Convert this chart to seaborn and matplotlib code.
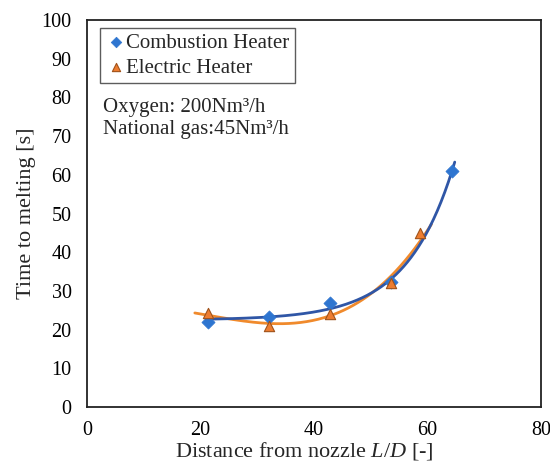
import numpy as np
import pandas as pd
import matplotlib
matplotlib.use("Agg")
import matplotlib.pyplot as plt
import seaborn as sns

# Data
comb_x = [21.4, 32.1, 42.9, 53.6, 64.3]
comb_y = [21.9, 23.3, 26.8, 32.4, 61.0]
elec_x = [21.4, 32.1, 42.9, 53.6, 58.6]
elec_y = [24.4, 21.0, 24.0, 32.0, 45.0]

# Electric-heater trendline
elec_trend_x = [19.0, 21.3, 31.9, 42.5, 53.6, 58.6, 60.7]
elec_trend_y = [24.6, 23.4, 21.3, 24.2, 32.8, 43.5, 47.0]

x_ticks = [0, 20, 40, 60, 80]
y_ticks = [0, 10, 20, 30, 40, 50, 60, 70, 80, 90, 100]

sns.set_style("white")
plt.rcParams["font.family"] = ["Liberation Serif", "DejaVu Serif"]
plt.rcParams["mathtext.fontset"] = "custom"
plt.rcParams["mathtext.it"] = "Liberation Serif:italic"
plt.rcParams["mathtext.rm"] = "Liberation Serif"

blue_m = "#2E75D0"
blue_l = "#2F56A6"
orange_m = "#ED7D31"
orange_e = "#A0521A"
orange_l = "#F08A2C"

fig = plt.figure(figsize=(5.5, 4.68), dpi=100)
ax = fig.add_axes([87 / 550, (468 - 407) / 468, (541 - 87) / 550, (407 - 20) / 468])

# combustion trendline: y = a + b*exp(c x), least squares over c
cx = np.asarray(comb_x); cy = np.asarray(comb_y)
best = None
for c in np.linspace(0.02, 0.3, 2000):
    A = np.column_stack([np.ones_like(cx), np.exp(c * cx)])
    coef, res, *_ = np.linalg.lstsq(A, cy, rcond=None)
    err = np.sum((A @ coef - cy) ** 2)
    if best is None or err < best[0]:
        best = (err, c, coef)
_, c_best, (a_best, b_best) = best
xc = np.linspace(21.0, 64.8, 200)
yc = a_best + b_best * np.exp(c_best * xc)

pe = np.polyfit(elec_trend_x, elec_trend_y, 3)
xe = np.linspace(19.0, 60.7, 200)
ye = np.polyval(pe, xe)

sns.lineplot(x=xe, y=ye, ax=ax, color=orange_l, lw=2.0, legend=False)
sns.lineplot(x=xc, y=yc, ax=ax, color=blue_l, lw=2.0, legend=False)

sns.scatterplot(x=comb_x, y=comb_y, ax=ax, marker="D", s=45, color=blue_m,
                edgecolor=blue_m, linewidth=0.5, label="Combustion Heater", zorder=5)
sns.scatterplot(x=elec_x, y=elec_y, ax=ax, marker="^", s=55, color=orange_m,
                edgecolor=orange_e, linewidth=0.8, label="Electric Heater", zorder=5)

ax.set_xlim(0, 80)
ax.set_ylim(0, 100)
ax.set_xticks(x_ticks)
ax.set_yticks(y_ticks)
ax.tick_params(direction="in", length=5, width=1, labelsize=14.5, colors="black")
ax.tick_params(axis="x", pad=10)
ax.tick_params(axis="y", pad=11)
for s in ax.spines.values():
    s.set_color("#222222")
    s.set_linewidth(1.3)

ax.set_xlabel("Distance from nozzle $L$/$D$ [-]", fontsize=16, labelpad=2)
ax.set_ylabel("Time to melting [s]", fontsize=16, labelpad=4)
ax.xaxis.set_label_coords(0.478, -0.085)

leg = ax.legend(loc="upper left", bbox_to_anchor=(0.02, 0.99), fontsize=15,
                frameon=True, fancybox=False, edgecolor="#333333",
                handletextpad=0.0, borderpad=0.25, labelspacing=0.25,
                handlelength=1.0, borderaxespad=0.2, markerscale=0.8)
leg.get_frame().set_linewidth(1.0)

ax.text(0.035, 0.775, "Oxygen: 200Nm³/h", transform=ax.transAxes, fontsize=15, va="center")
ax.text(0.035, 0.718, "National gas:45Nm³/h", transform=ax.transAxes, fontsize=15, va="center")

fig.savefig("out.png", dpi=100)
